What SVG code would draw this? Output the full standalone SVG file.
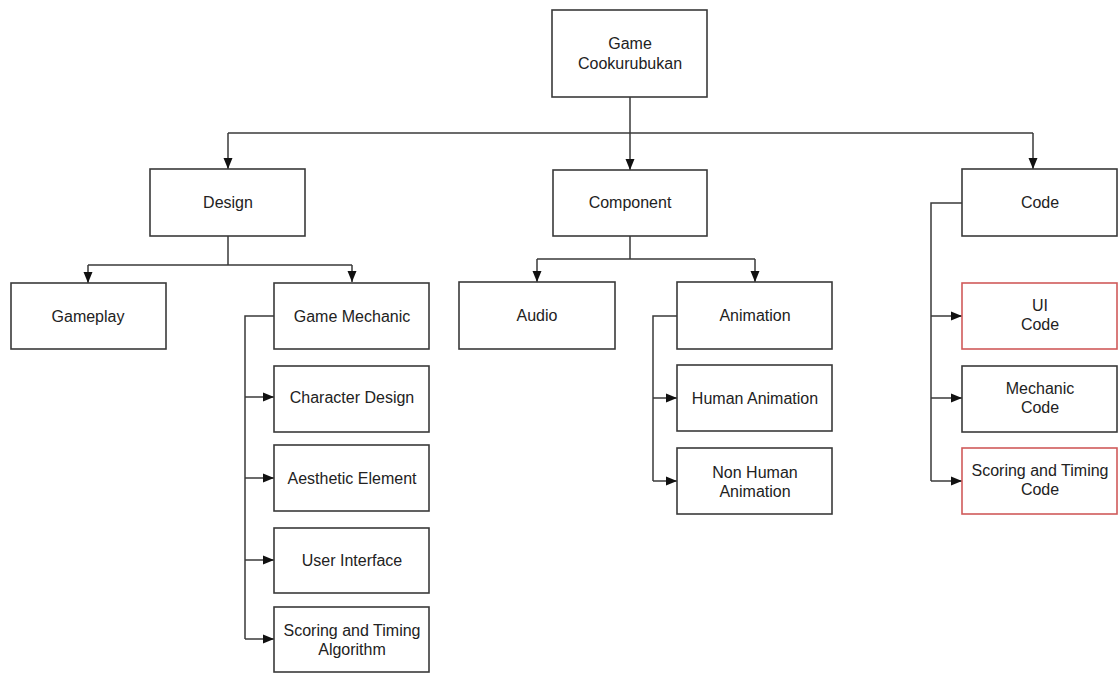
<svg xmlns="http://www.w3.org/2000/svg" width="1120" height="673" viewBox="0 0 1120 673">
<style>
.box{fill:#fff;stroke:#3a3a3a;stroke-width:1.6}
.red{fill:#fff;stroke:#d05a5a;stroke-width:1.6}
.t{font-family:"Liberation Sans",Arial,sans-serif;font-size:16px;fill:#222;text-anchor:middle}
.c{fill:none;stroke:#3a3a3a;stroke-width:1.5}
.a{fill:none;stroke:#3a3a3a;stroke-width:1.5;marker-end:url(#ah)}
</style>
<defs>
<marker id="ah" markerUnits="userSpaceOnUse" markerWidth="11" markerHeight="10" viewBox="0 0 11 10" refX="11" refY="5" orient="auto">
<path d="M0,0.5 L11,5 L0,9.5 Z" fill="#111"/>
</marker>
</defs>
<rect width="1120" height="673" fill="#fff"/>
<g id="connectors">
<path class="a" d="M630 97 V170"/>
<path class="c" d="M228 133 H1033"/>
<path class="a" d="M228 133 V169"/>
<path class="a" d="M1033 133 V169"/>
<path class="c" d="M228 236 V265 M88 265 H352"/>
<path class="a" d="M88 265 V283"/>
<path class="a" d="M352 265 V282"/>
<path class="c" d="M274 316 H245 V639"/>
<path class="a" d="M245 397 H274"/>
<path class="a" d="M245 478 H274"/>
<path class="a" d="M245 560 H274"/>
<path class="a" d="M245 639 H274"/>
<path class="c" d="M630 236 V259 M537 259 H755"/>
<path class="a" d="M537 259 V282"/>
<path class="a" d="M755 259 V282"/>
<path class="c" d="M677 316 H653 V481"/>
<path class="a" d="M653 398 H677"/>
<path class="a" d="M653 481 H677"/>
<path class="c" d="M962 203 H931 V481"/>
<path class="a" d="M931 316 H962"/>
<path class="a" d="M931 398 H962"/>
<path class="a" d="M931 481 H962"/>
</g>
<g id="root"><rect class="box" x="552" y="10" width="155" height="87"/><text class="t" x="630" y="49">Game</text><text class="t" x="630" y="69">Cookurubukan</text></g>
<g id="design"><rect class="box" x="150" y="169" width="155" height="67"/><text class="t" x="228" y="208">Design</text></g>
<g id="component"><rect class="box" x="553" y="170" width="154" height="66"/><text class="t" x="630" y="208">Component</text></g>
<g id="code"><rect class="box" x="962" y="169" width="155" height="67"/><text class="t" x="1040" y="208">Code</text></g>
<g id="gameplay"><rect class="box" x="11" y="283" width="155" height="66"/><text class="t" x="88" y="322">Gameplay</text></g>
<g id="game-mechanic"><rect class="box" x="274" y="283" width="155" height="66"/><text class="t" x="352" y="322">Game Mechanic</text></g>
<g id="character-design"><rect class="box" x="274" y="366" width="155" height="66"/><text class="t" x="352" y="403">Character Design</text></g>
<g id="aesthetic-element"><rect class="box" x="274" y="445" width="155" height="66"/><text class="t" x="352" y="484">Aesthetic Element</text></g>
<g id="user-interface"><rect class="box" x="274" y="528" width="155" height="65"/><text class="t" x="352" y="566">User Interface</text></g>
<g id="scoring-algorithm"><rect class="box" x="274" y="607" width="155" height="65"/><text class="t" x="352" y="636">Scoring and Timing</text><text class="t" x="352" y="655">Algorithm</text></g>
<g id="audio"><rect class="box" x="459" y="282" width="156" height="67"/><text class="t" x="537" y="321">Audio</text></g>
<g id="animation"><rect class="box" x="677" y="282" width="155" height="67"/><text class="t" x="755" y="321">Animation</text></g>
<g id="human-animation"><rect class="box" x="677" y="365" width="155" height="66"/><text class="t" x="755" y="404">Human Animation</text></g>
<g id="non-human-animation"><rect class="box" x="677" y="448" width="155" height="66"/><text class="t" x="755" y="478">Non Human</text><text class="t" x="755" y="497">Animation</text></g>
<g id="ui-code"><rect class="red" x="962" y="283" width="155" height="66"/><text class="t" x="1040" y="311">UI</text><text class="t" x="1040" y="330">Code</text></g>
<g id="mechanic-code"><rect class="box" x="962" y="366" width="155" height="66"/><text class="t" x="1040" y="394">Mechanic</text><text class="t" x="1040" y="413">Code</text></g>
<g id="scoring-code"><rect class="red" x="962" y="448" width="155" height="66"/><text class="t" x="1040" y="476">Scoring and Timing</text><text class="t" x="1040" y="495">Code</text></g>
</svg>
